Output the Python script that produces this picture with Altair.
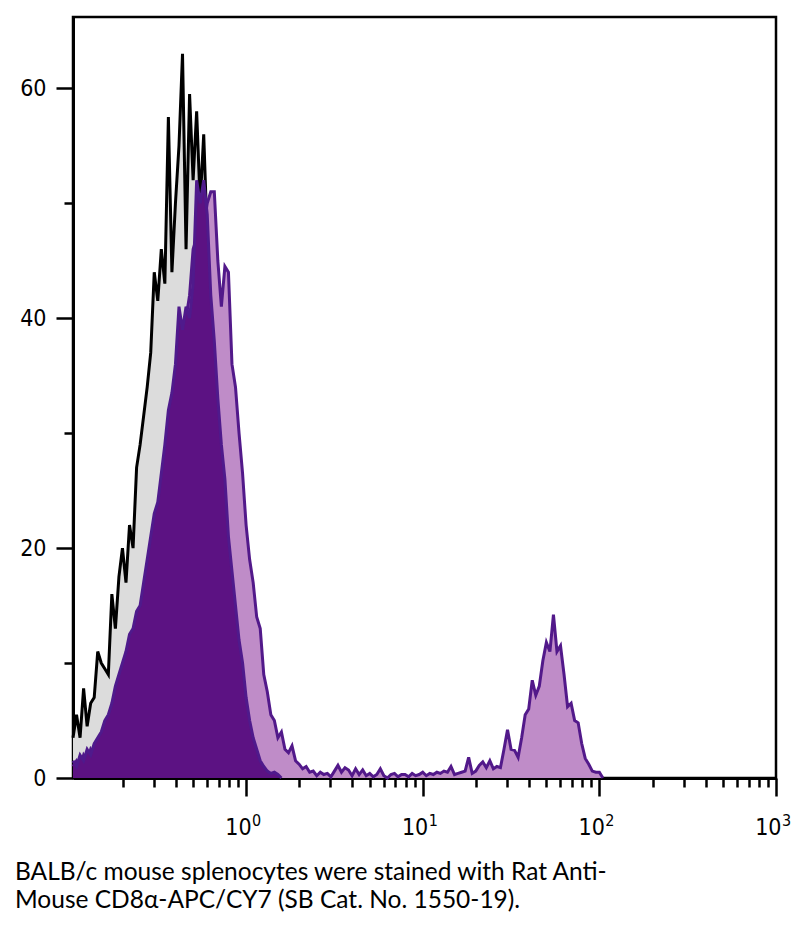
import altair as alt
import pandas as pd

# Channel grid: log10 intensity, one channel per 0.02 decade starting at 10^-0.98
GRID_START = -0.98
GRID_STEP = 0.02

# Unstained control (grey fill, black outline)
control_counts = [3.5, 5.5, 3.5, 7.8, 4.5, 6.5, 7, 11, 10, 9.5,
                  9, 16, 13, 17.5, 20, 17, 22, 20, 27, 29,
                  31.5, 34, 37, 44, 41.5, 46, 43, 57.5, 44, 50,
                  55, 63, 46, 59.5, 52, 58, 50, 56, 47, 44,
                  40, 35, 30, 25, 20, 15, 11, 8, 5, 3,
                  1.5, 0.8, 0.3, 0]

# CD8-stained splenocytes (light purple fill)
stained_counts = [1, 1.5, 1, 2, 1.5, 2.5, 2, 3, 3.5, 4,
                  5, 5.5, 7, 8, 9, 10, 11, 12, 13, 14,
                  15.5, 17, 19, 21, 23, 25, 27, 30, 32, 34,
                  37, 38, 40, 42, 46, 47, 49, 48, 50, 51,
                  51, 45, 41, 44.5, 44, 36, 34, 30, 26.5, 22,
                  19, 17, 14, 13, 9, 7.5, 5.5, 5, 3.5, 4,
                  2.5, 2.2, 2.8, 1.5, 1.2, 0.8, 1, 0.5, 0.6, 0.2,
                  0.5, 0.3, 0.4, 0.1, 0.6, 1.1, 0.5, 0.9, 0.7, 0.2,
                  0.8, 0.3, 0.7, 0.2, 0.4, 0.1, 0.3, 0.8, 0.2, 0,
                  0.3, 0.4, 0.1, 0.3, 0.3, 0.1, 0.4, 0.2, 0.3, 0.5,
                  0.2, 0.4, 0.3, 0.5, 0.4, 0.6, 0.5, 1, 0.3, 0.4,
                  0.5, 0.6, 1.8, 0.4, 0.6, 1.1, 1.4, 0.9, 1.5, 0.8,
                  1.0, 0.9, 2.5, 4.2, 2.5, 2.4, 1.8, 3.5, 5.5, 6,
                  8.5, 7.2, 8, 10.2, 11.8, 11, 14.2, 11, 11.5, 9,
                  6.2, 6.5, 5, 4.8, 3, 1.7, 1.2, 0.6, 0.5, 0.5,
                  0]

# CD8-negative gated / isotype (dark purple fill)
isotype_counts = [1.5, 1, 2, 1.5, 2.5, 2, 3, 3.5, 4, 5,
                  5.5, 6.5, 8, 9, 10, 11, 12.5, 13, 14.5, 15,
                  17, 19, 21, 23, 24, 26.5, 29, 32, 33.5, 36,
                  41, 39, 41, 40, 43, 52, 50, 52, 49, 42,
                  38, 33, 29, 26, 21, 18, 15, 12, 10, 7,
                  5, 3.5, 2.5, 1.5, 1, 0.6, 0.4, 0.5, 0.3, 0]

caption = ["BALB/c mouse splenocytes were stained with Rat Anti-",
           "Mouse CD8\u03b1-APC/CY7 (SB Cat. No. 1550-19)."]

x_ticks = [0.2, 0.3, 0.4, 0.5, 0.6, 0.7, 0.8, 0.9,
           1, 2, 3, 4, 5, 6, 7, 8, 9,
           10, 20, 30, 40, 50, 60, 70, 80, 90,
           100, 200, 300, 400, 500, 600, 700, 800, 900, 1000]
decades = [1, 10, 100, 1000]
exponents = ["0", "1", "2", "3"]
y_ticks = [0, 10, 20, 30, 40, 50, 60]


def frame(counts):
    return pd.DataFrame({
        "intensity": [10 ** (GRID_START + GRID_STEP * i) for i in range(len(counts))],
        "count": counts,
    })


FONT = "Liberation Sans Narrow, DejaVu Sans Condensed, Roboto, sans-serif"
PLOT_H = 761

x_scale = alt.Scale(type="log", domain=[10 ** GRID_START, 1000], nice=False)
MAJOR = "datum.value == 1 || datum.value == 10 || datum.value == 100 || datum.value == 1000"

x_enc = alt.X(
    "intensity:Q",
    scale=x_scale,
    axis=alt.Axis(
        values=x_ticks,
        labelExpr=f"{MAJOR} ? '10' : ''",
        tickSize={"condition": {"test": MAJOR, "value": 18}, "value": 9},
        tickWidth=2.5,
        tickColor="black",
        domainColor="black",
        domainWidth=3,
        labelFontSize=23,
        labelFont=FONT,
        labelColor="black",
        labelPadding=20,
        labelAlign="right",
        labelOffset=5,
        labelFlush=False,
        labelOverlap=False,
        grid=False,
        title=None,
    ),
)
y_enc = alt.Y(
    "count:Q",
    scale=alt.Scale(domain=[0, 66.2], nice=False, zero=True),
    axis=alt.Axis(
        values=y_ticks,
        labelExpr="datum.value % 20 == 0 ? datum.label : ''",
        tickSize={"condition": {"test": "datum.value % 20 == 0", "value": 17}, "value": 9},
        tickWidth=2.5,
        tickColor="black",
        domainColor="black",
        domainWidth=3,
        labelFontSize=23,
        labelFont=FONT,
        labelColor="black",
        labelPadding=10,
        labelOverlap=False,
        grid=False,
        title=None,
    ),
)

control = alt.Chart(frame(control_counts)).mark_area(
    color="#dcdcdc", opacity=1,
    line={"color": "#000000", "strokeWidth": 3},
).encode(x=x_enc, y=y_enc)

stained = alt.Chart(frame(stained_counts)).mark_area(
    color="#bf8cc8", opacity=1,
    line={"color": "#52198a", "strokeWidth": 3},
).encode(x=x_enc, y=y_enc)

isotype = alt.Chart(frame(isotype_counts)).mark_area(
    color="#5c1283", opacity=1,
    line={"color": "#4f1a8c", "strokeWidth": 3},
).encode(x=x_enc, y=y_enc)

# superscript exponents for the decade labels
sup = alt.Chart(pd.DataFrame({"intensity": decades, "exp": exponents})).mark_text(
    font=FONT, fontSize=16, color="black", align="left", baseline="alphabetic", dx=6,
).encode(
    x=alt.X("intensity:Q", scale=x_scale),
    y=alt.value(PLOT_H + 48),
    text="exp:N",
)

chart = alt.layer(control, stained, isotype, sup).properties(
    width=703,
    height=PLOT_H,
    autosize=alt.AutoSizeParams(type="none"),
    padding={"left": 65, "top": 9, "right": 20, "bottom": 136},
    title=alt.Title(
        caption,
        orient="bottom",
        anchor="start",
        frame="group",
        dx=-58,
        offset=22,
        fontSize=24.5,
        lineHeight=28,
        font="Lato, Open Sans, sans-serif",
        fontWeight="normal",
        color="black",
    ),
).configure_view(stroke="black", strokeWidth=2.5)

chart.save("out.html", embed_options={"renderer": "svg", "actions": False})
